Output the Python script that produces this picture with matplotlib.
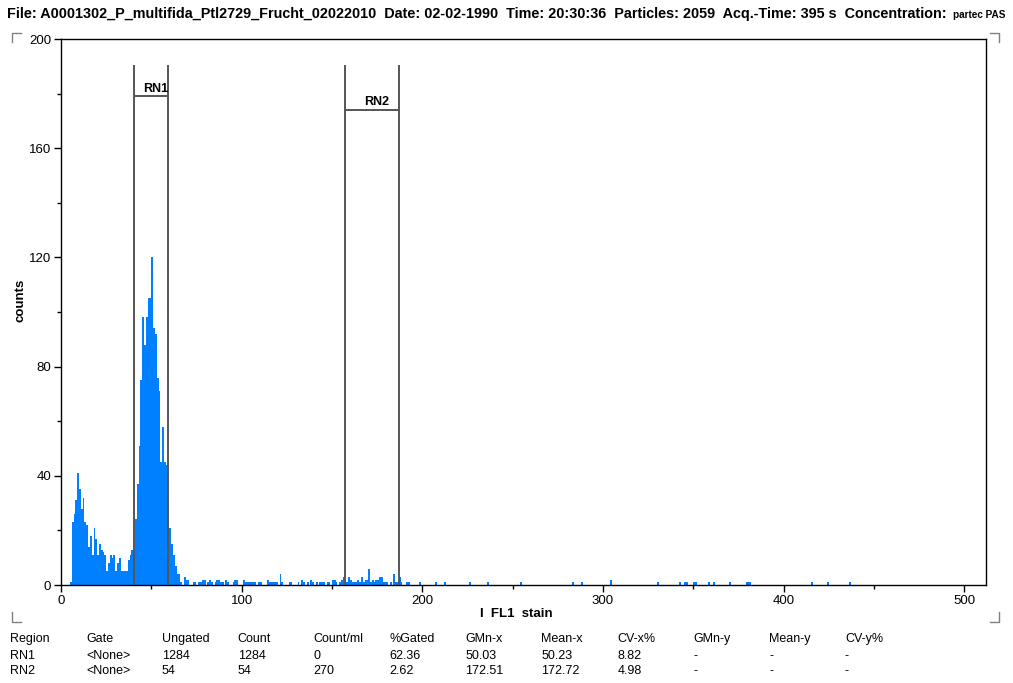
import matplotlib
matplotlib.use('Agg')
import matplotlib.pyplot as plt
from matplotlib.ticker import MultipleLocator
from matplotlib.lines import Line2D
import numpy as np

plt.rcParams['font.family'] = ['Liberation Sans', 'DejaVu Sans']

# ---------------- data ----------------
main_start = 5
main_counts = [1, 23, 26, 31, 41, 35, 28, 32, 23, 22,
               14, 18, 11, 21, 17, 11, 15, 13, 12, 11,
               5, 8, 11, 10, 11, 5, 8, 10, 5, 5,
               5, 5, 9, 11, 13, 12, 24, 37, 51, 75,
               98, 88, 98, 105, 105, 120, 94, 92, 76, 71,
               45, 58, 45, 44, 30, 21, 15, 11, 7, 4,
               4, 1, 0, 3, 2, 2]

tail_channels = [73, 74, 76, 77, 78, 79, 81, 82, 83, 85, 86, 87, 88, 89, 91, 92,
                 95, 96, 97, 101, 102, 103, 104, 105, 106, 107, 109, 110, 114,
                 115, 116, 117, 118, 119, 121, 122, 126, 127, 131, 133, 134, 136,
                 138, 139, 141, 143, 144, 145, 147, 148, 150, 151, 152, 154, 155,
                 156, 158, 159, 160, 161, 162, 163, 164, 165, 166, 167, 168, 169,
                 170, 171, 172, 173, 174, 175, 176, 177, 178, 179, 180, 182, 184,
                 185, 186, 187, 188, 191, 192, 198, 207, 212, 226, 236, 254, 283,
                 288, 304, 330, 342, 345, 346, 350, 351, 358, 361, 370, 379, 380,
                 381, 415, 424, 436]
tail_counts = [1, 1, 1, 1, 2, 2, 1, 2, 1, 1, 2, 2, 1, 1, 2, 1,
               1, 2, 2, 2, 1, 1, 1, 1, 1, 1, 1, 1, 2,
               1, 1, 1, 1, 1, 4, 1, 1, 1, 1, 2, 1, 1,
               2, 1, 1, 1, 1, 1, 1, 1, 2, 2, 1, 1, 2,
               3, 1, 3, 2, 1, 1, 1, 2, 1, 3, 1, 2, 2,
               6, 1, 2, 1, 2, 2, 3, 3, 1, 1, 1, 1, 4,
               1, 1, 3, 1, 1, 1, 1, 1, 1, 1, 1, 1, 1,
               1, 2, 1, 1, 1, 1, 1, 1, 1, 1, 1, 1, 1,
               1, 1, 1, 1]

region_names = ['RN1', 'RN2']
region_lo = [40.4, 157.2]
region_hi = [59.2, 187.3]
region_bar_y = [179, 174]
region_top = 190.5

title_main = ("File: A0001302_P_multifida_Ptl2729_Frucht_02022010  Date: 02-02-1990  "
              "Time: 20:30:36  Particles: 2059  Acq.-Time: 395 s  Concentration:")
title_tail = "partec PAS"

table_header = ['Region', 'Gate', 'Ungated', 'Count', 'Count/ml', '%Gated',
                'GMn-x', 'Mean-x', 'CV-x%', 'GMn-y', 'Mean-y', 'CV-y%']
table_row1 = ['RN1', '<None>', '1284', '1284', '0', '62.36',
              '50.03', '50.23', '8.82', '-', '-', '-']
table_row2 = ['RN2', '<None>', '54', '54', '270', '2.62',
              '172.51', '172.72', '4.98', '-', '-', '-']

# ---------------- figure ----------------
W, H = 1013, 683
fig = plt.figure(figsize=(W / 100, H / 100), dpi=100)
ax = fig.add_axes([61 / W, 1 - 585 / H, 925 / W, 546 / H])

channels = np.concatenate([np.arange(main_start, main_start + len(main_counts)),
                           np.array(tail_channels)])
counts = np.concatenate([np.array(main_counts), np.array(tail_counts)])
ax.bar(channels, counts, width=1.0, align='edge', color='#0080ff', linewidth=0, zorder=2)

line_col = '#555555'
for name, lo, hi, by in zip(region_names, region_lo, region_hi, region_bar_y):
    ax.vlines([lo, hi], 0, region_top, color=line_col, lw=1.4, zorder=3)
    ax.hlines(by, lo, hi, color=line_col, lw=1.4, zorder=3)
    ax.text((lo + hi) / 2 + 2.5, by + 0.6, name, ha='center', va='bottom',
            fontsize=9, fontweight='bold', zorder=4)

ax.set_xlim(0, 512)
ax.set_ylim(0, 200)
ax.xaxis.set_major_locator(MultipleLocator(100))
ax.xaxis.set_minor_locator(MultipleLocator(50))
ax.yaxis.set_major_locator(MultipleLocator(40))
ax.yaxis.set_minor_locator(MultipleLocator(20))
ax.tick_params(which='major', direction='out', length=5, width=1, labelsize=9.5, pad=2)
ax.tick_params(which='minor', direction='out', length=3, width=1)
for s in ax.spines.values():
    s.set_linewidth(1)
    s.set_color('black')

# axis labels
fig.text(516 / W, 1 - 614 / H, 'I  FL1  stain', ha='center', va='center',
         fontsize=9.5, fontweight='bold')
fig.text(20 / W, 1 - 300 / H, 'counts', ha='center', va='center', rotation=90,
         fontsize=9.5, fontweight='bold')

# title
fig.text(7 / W, 1 - 14 / H, title_main, ha='left', va='center',
         fontsize=10.4, fontweight='bold')
fig.text(953 / W, 1 - 15 / H, title_tail, ha='left', va='center',
         fontsize=7.2, fontweight='bold')

# corner marks
gray = '#808080'
def px_line(xs, ys):
    fig.add_artist(Line2D([x / W for x in xs], [1 - y / H for y in ys],
                          transform=fig.transFigure, color=gray, lw=1))
px_line([12, 12, 21], [42, 33, 33])
px_line([990, 999, 999], [33, 33, 42])
px_line([12, 12, 21], [612, 622, 622])
px_line([990, 999, 999], [622, 622, 612])

# stats table
col_x = [10 + 75.9 * i for i in range(len(table_header))]
for row, y in zip([table_header, table_row1, table_row2], [639, 656, 671]):
    for txt, x in zip(row, col_x):
        fig.text(x / W, 1 - y / H, txt, ha='left', va='center', fontsize=9)

fig.savefig('out.png', dpi=100)
